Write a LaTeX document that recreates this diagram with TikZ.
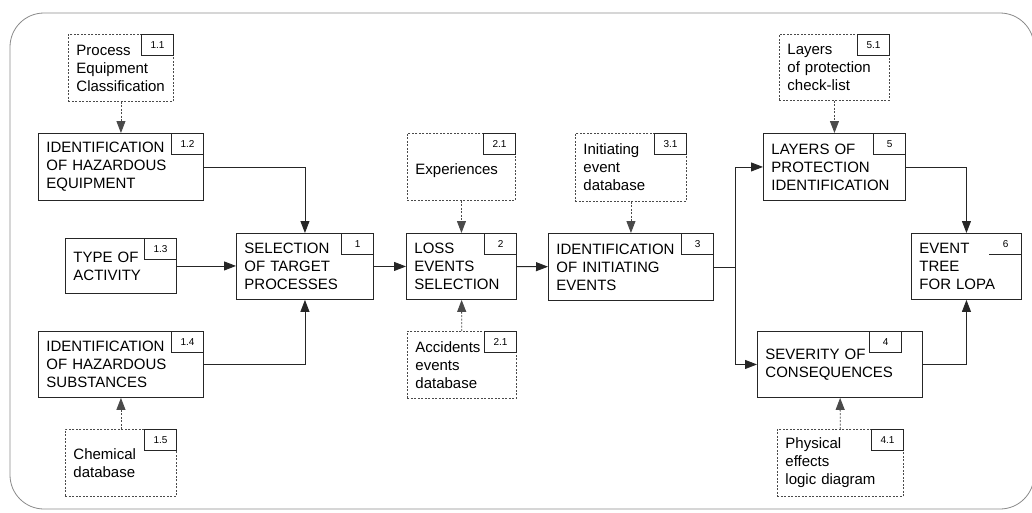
\documentclass[tikz,border=0pt]{standalone}
\usepackage{fontspec}
\setmainfont{Liberation Sans}
\usetikzlibrary{arrows.meta}
\definecolor{frame}{HTML}{8A8A8A}
\definecolor{edge}{HTML}{262626}
\definecolor{dash}{HTML}{4A4A4A}
\begin{document}
\begin{tikzpicture}[x=1pt, y=-1pt,
  box/.style={draw=edge, line width=0.9pt, anchor=north west, align=left,
    inner xsep=8pt, inner ysep=0pt, minimum height=67pt,
    font=\fontsize{15}{18}\selectfont},
  src/.style={box, draw=dash, dash pattern=on 2pt off 1.5pt},
  tag/.style={draw=edge, line width=0.7pt, anchor=north east, solid,
    minimum width=32pt, minimum height=21pt, inner sep=0pt,
    font=\fontsize{10}{12}\selectfont},
  flow/.style={draw=edge, line width=0.9pt, -{Triangle[length=12pt,width=9pt]}},
  feed/.style={flow, draw=dash, dash pattern=on 2pt off 1.5pt}]
\useasboundingbox (0,0) rectangle (1032,512);
\draw[frame, line width=0.8pt, rounded corners=34pt] (10,13) rectangle (1034,509);
% inputs of step 1
\node[src, text width=89pt] (b11) at (68,34) {Process\\Equipment\\Classification};
\node[tag] (t11) at (b11.north east) {1.1};
\node[box, text width=149pt] (b12) at (38,133) {IDENTIFICATION\\OF HAZARDOUS\\EQUIPMENT};
\node[tag] (t12) at (b12.north east) {1.2};
\node[box, text width=95pt, minimum height=55pt] (b13) at (65,238) {TYPE OF\\ACTIVITY};
\node[tag] (t13) at (b13.north east) {1.3};
\node[box, text width=149pt, minimum height=66pt] (b14) at (38,331) {IDENTIFICATION\\OF HAZARDOUS\\SUBSTANCES};
\node[tag] (t14) at (b14.north east) {1.4};
\node[src, text width=95pt] (b15) at (65,429) {Chemical\\database};
\node[tag] (t15) at (b15.north east) {1.5};
% main chain
\node[box, text width=121pt, minimum height=66pt] (b1) at (236,233) {SELECTION\\OF TARGET\\PROCESSES};
\node[tag] (t1) at (b1.north east) {1};
\node[box, text width=94pt, minimum height=66pt] (b2) at (406,233) {LOSS\\EVENTS\\SELECTION};
\node[tag] (t2) at (b2.north east) {2};
\node[src, text width=92pt] (b21) at (407,133) {\\Experiences\\};
\node[tag] (t21) at (b21.north east) {2.1};
\node[src, text width=93pt] (b22) at (407,331) {Accidents\\events\\database};
\node[tag] (t22) at (b22.north east) {2.1};
\node[box, text width=149pt] (b3) at (548,233) {IDENTIFICATION\\OF INITIATING\\EVENTS};
\node[tag] (t3) at (b3.north east) {3};
\node[src, text width=95pt, minimum height=68pt] (b31) at (575,133) {Initiating\\event\\database};
\node[tag] (t31) at (b31.north east) {3.1};
\node[box, text width=126pt] (b5) at (763,133) {LAYERS OF\\PROTECTION\\IDENTIFICATION};
\node[tag] (t5) at (b5.north east) {5};
\node[src, text width=94pt, minimum height=66pt] (b51) at (779,34) {Layers\\of protection\\check-list};
\node[tag] (t51) at (b51.north east) {5.1};
\node[box, text width=149pt, minimum height=66pt] (b4) at (757,331) {SEVERITY OF\\CONSEQUENCES};
\node[tag] (t4) at ([xshift=-21pt]b4.north east) {4};
\node[src, text width=110pt] (b41) at (777,429) {Physical\\effects\\logic diagram};
\node[tag] (t41) at (b41.north east) {4.1};
\node[box, text width=94pt, minimum height=66pt] (b6) at (911,233) {EVENT\\TREE\\FOR LOPA};
\node[tag, draw=none] (t6) at (b6.north east) {6};
\draw[edge, line width=0.7pt] (t6.south west) -- (t6.south east);
% connectors
\draw[feed] (b11) -- (b12);
\draw[feed] (b15) -- (b14);
\draw[flow] (b12.east) -| (b1.north);
\draw[flow] (b13.east) -- (b13.east -| b1.west);
\draw[flow] (b14.east) -| (b1.south);
\draw[flow] (b1) -- (b2);
\draw[feed] (b21) -- (b2);
\draw[feed] (b22) -- (b2);
\draw[flow] (b2) -- (b3);
\draw[feed] (b31) -- (b3);
\coordinate (split) at ([xshift=22pt]b3.east);
\draw[edge, line width=0.9pt] (b3.east) -- (split);
\draw[flow] (split) |- (b5.west);
\draw[flow] (split) |- (b4.west);
\draw[feed] (b51) -- (b5);
\draw[feed] (b41) -- (b4);
\draw[flow] (b5.east) -| (b6.north);
\draw[flow] (b4.east) -| (b6.south);
\end{tikzpicture}
\end{document}
